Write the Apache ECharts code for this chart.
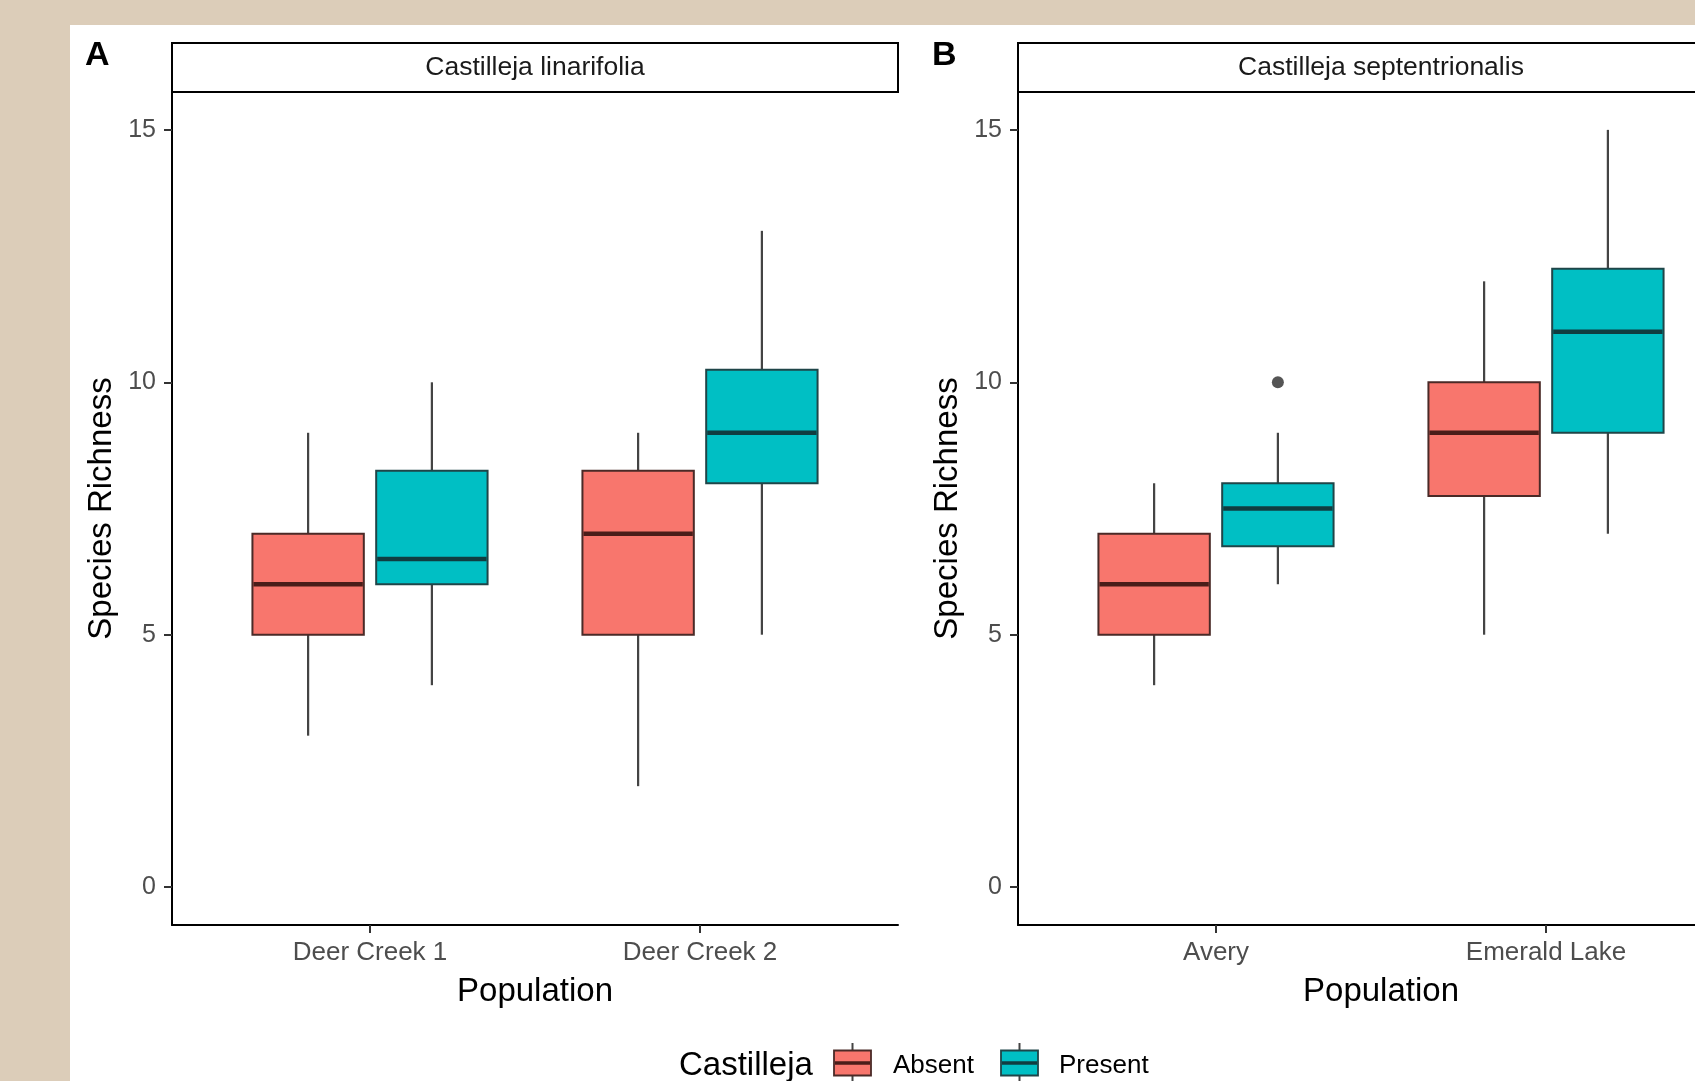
<!DOCTYPE html>
<html>
<head>
<meta charset="utf-8">
<script src="https://cdn.jsdelivr.net/npm/echarts@6/dist/echarts.min.js"></script>
<style>
  html, body { margin: 0; padding: 0; background: #DCCDB9; overflow: hidden; width: 1695px; height: 1081px; }
  #panel { position: absolute; left: 70px; top: 25px; width: 1625px; height: 1056px; background: #ffffff; }
  #chart { position: absolute; left: 0; top: 0; width: 1800px; height: 1081px; }
</style>
</head>
<body>
<div id="panel"></div>
<div id="chart"></div>
<script>
// ---- data ----
const panelTitles = ['Castilleja linarifolia', 'Castilleja septentrionalis'];
const panelLetters = ['A', 'B'];
const populationsA = ['Deer Creek 1', 'Deer Creek 2'];
const populationsB = ['Avery', 'Emerald Lake'];
const groups = ['Absent', 'Present'];
// each box: [min, q1, median, q3, max]
const absentA  = [[3, 5, 6, 7, 9], [2, 5, 7, 8.25, 9]];
const presentA = [[4, 6, 6.5, 8.25, 10], [5, 8, 9, 10.25, 13]];
const absentB  = [[4, 5, 6, 7, 8], [5, 7.75, 9, 10, 12]];
const presentB = [[6, 6.75, 7.5, 8, 9], [7, 9, 11, 12.25, 15]];
// outliers: [population index, group index, value]
const outliersB = [[0, 1, 10]];
const yTicks = [0, 5, 10, 15];

// ---- styling ----
const FONT = '"Liberation Sans", Arial, sans-serif';
const COLORS = ['#F8766D', '#00BFC4'];
const BORDER = ['#4a2a27', '#1f4548'];
const MEDIAN = ['#4a1d19', '#103d40'];
const WHISKER = '#444444';
const DODGE = 0.1875;
const BOX_W = 0.3375;

function boxData(arr, g) {
  const off = g === 0 ? -DODGE : DODGE;
  return arr.map((b, i) => [i + 1 + off].concat(b));
}

function makeRender(g) {
  return function (params, api) {
    const x = api.value(0);
    const half = api.size([BOX_W, 0])[0] / 2;
    const pMin = api.coord([x, api.value(1)]);
    const cx = pMin[0];
    const yMin = pMin[1];
    const yQ1 = api.coord([x, api.value(2)])[1];
    const yMed = api.coord([x, api.value(3)])[1];
    const yQ3 = api.coord([x, api.value(4)])[1];
    const yMax = api.coord([x, api.value(5)])[1];
    return {
      type: 'group',
      children: [
        { type: 'line', shape: { x1: cx, y1: yMax, x2: cx, y2: yQ3 }, style: { stroke: WHISKER, lineWidth: 2.2 } },
        { type: 'line', shape: { x1: cx, y1: yQ1, x2: cx, y2: yMin }, style: { stroke: WHISKER, lineWidth: 2.2 } },
        { type: 'rect', shape: { x: cx - half, y: yQ3, width: 2 * half, height: yQ1 - yQ3 },
          style: { fill: COLORS[g], stroke: BORDER[g], lineWidth: 2 } },
        { type: 'line', shape: { x1: cx - half + 1, y1: yMed, x2: cx + half - 1, y2: yMed },
          style: { stroke: MEDIAN[g], lineWidth: 4.5 } }
      ]
    };
  };
}

const grids = [
  { left: 172, top: 92, width: 726, height: 833 },
  { left: 1018, top: 92, width: 726, height: 833 }
];

function xAxisFor(i, cats) {
  return {
    type: 'value', gridIndex: i, min: 0.4, max: 2.6,
    splitLine: { show: false },
    axisLine: { show: true, onZero: false, lineStyle: { color: '#000', width: 2 } },
    axisTick: { show: true, length: 8, customValues: [1, 2], lineStyle: { color: '#333', width: 2 } },
    axisLabel: {
      customValues: [1, 2], margin: 15, color: '#4d4d4d', fontSize: 26, fontFamily: FONT,
      formatter: v => cats[Math.round(v) - 1]
    },
    name: 'Population', nameLocation: 'middle', nameGap: 50,
    nameTextStyle: { color: '#000', fontSize: 33, fontFamily: FONT }
  };
}
function yAxisFor(i) {
  return {
    type: 'value', gridIndex: i, min: -0.75, max: 15.75,
    splitLine: { show: false },
    axisLine: { show: true, onZero: false, lineStyle: { color: '#000', width: 2 } },
    axisTick: { show: true, length: 8, customValues: yTicks, lineStyle: { color: '#333', width: 2 } },
    axisLabel: { customValues: yTicks, margin: 16, color: '#4d4d4d', fontSize: 25, fontFamily: FONT, padding: [8, 0, 0, 0] },
    name: 'Species Richness', nameLocation: 'middle', nameGap: 54,
    nameTextStyle: { color: '#000', fontSize: 33, fontFamily: FONT }
  };
}

const series = [];
[[absentA, presentA], [absentB, presentB]].forEach((pair, pi) => {
  pair.forEach((arr, g) => {
    series.push({
      type: 'custom', name: groups[g], xAxisIndex: pi, yAxisIndex: pi,
      renderItem: makeRender(g),
      encode: { x: 0, y: [1, 2, 3, 4, 5] },
      data: boxData(arr, g), z: 3
    });
  });
});
series.push({
  type: 'scatter', name: 'outlier', xAxisIndex: 1, yAxisIndex: 1,
  symbol: 'circle', symbolSize: 12,
  itemStyle: { color: '#2b2b2b' },
  data: outliersB.map(o => [o[0] + 1 + (o[1] === 0 ? -DODGE : DODGE), o[2]]),
  z: 4
});

// strips, panel letters, legend (decorations)
const graphics = [];
grids.forEach((gr, i) => {
  graphics.push({
    type: 'rect', shape: { x: gr.left, y: 43, width: gr.width, height: 49 },
    style: { fill: '#ffffff', stroke: '#000', lineWidth: 2 }, z: 5
  });
  graphics.push({
    type: 'text', x: gr.left + gr.width / 2, y: 68,
    style: { text: panelTitles[i], fill: '#1a1a1a', font: '26.5px ' + FONT, textAlign: 'center', textVerticalAlign: 'middle' }, z: 6
  });
});
graphics.push({ type: 'text', x: 85, y: 56, style: { text: panelLetters[0], fill: '#000', font: 'bold 34px ' + FONT, textAlign: 'left', textVerticalAlign: 'middle' } });
graphics.push({ type: 'text', x: 932, y: 56, style: { text: panelLetters[1], fill: '#000', font: 'bold 34px ' + FONT, textAlign: 'left', textVerticalAlign: 'middle' } });

// legend
const LY = 1063;
const TY = 1066;
graphics.push({ type: 'text', x: 679, y: TY, style: { text: 'Castilleja', fill: '#000', font: '33px ' + FONT, textAlign: 'left', textVerticalAlign: 'middle' } });
const keyX = [834, 1001];
const labX = [893, 1059];
groups.forEach((gname, g) => {
  const kx = keyX[g];
  graphics.push({ type: 'line', shape: { x1: kx + 18.5, y1: LY - 20, x2: kx + 18.5, y2: LY - 12 }, style: { stroke: WHISKER, lineWidth: 2 } });
  graphics.push({ type: 'line', shape: { x1: kx + 18.5, y1: LY + 12, x2: kx + 18.5, y2: LY + 20 }, style: { stroke: WHISKER, lineWidth: 2 } });
  graphics.push({ type: 'rect', shape: { x: kx, y: LY - 12.5, width: 37, height: 25 }, style: { fill: COLORS[g], stroke: BORDER[g], lineWidth: 1.8 } });
  graphics.push({ type: 'line', shape: { x1: kx + 1, y1: LY, x2: kx + 36, y2: LY }, style: { stroke: MEDIAN[g], lineWidth: 3.5 } });
  graphics.push({ type: 'text', x: labX[g], y: TY, style: { text: gname, fill: '#000', font: '26px ' + FONT, textAlign: 'left', textVerticalAlign: 'middle' } });
});

const chart = echarts.init(document.getElementById('chart'), null, { renderer: 'canvas' });
chart.setOption({
  animation: false,
  backgroundColor: 'transparent',
  textStyle: { fontFamily: FONT },
  grid: grids,
  xAxis: [xAxisFor(0, populationsA), xAxisFor(1, populationsB)],
  yAxis: [yAxisFor(0), yAxisFor(1)],
  series: series,
  graphic: { elements: graphics }
});
</script>
</body>
</html>
